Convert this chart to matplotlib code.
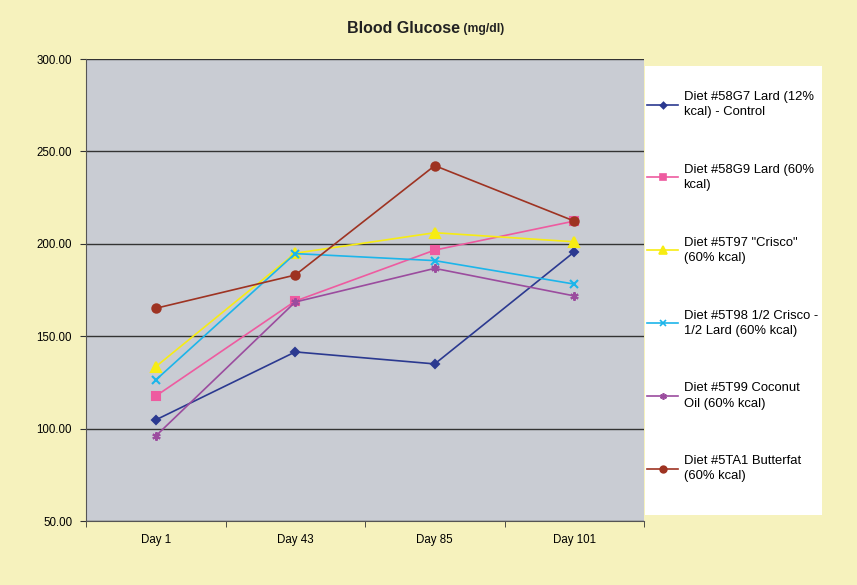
import matplotlib.pyplot as plt
from matplotlib.lines import Line2D
from matplotlib.patches import Rectangle

plt.rcParams['font.family'] = ['Liberation Sans', 'DejaVu Sans']

days = ["Day 1", "Day 43", "Day 85", "Day 101"]

lard_12 = [104.7, 141.5, 135.0, 195.6]
lard_60 = [117.6, 169.0, 196.6, 212.3]
crisco = [133.5, 194.9, 206.0, 201.1]
crisco_lard = [126.3, 194.7, 190.9, 178.2]
coconut = [96.0, 168.5, 186.7, 171.8]
butterfat = [165.1, 183.1, 242.3, 212.3]

labels = [
    'Diet #58G7 Lard (12%\nkcal) - Control',
    'Diet #58G9 Lard (60%\nkcal)',
    'Diet #5T97 "Crisco"\n(60% kcal)',
    'Diet #5T98 1/2 Crisco -\n1/2 Lard (60% kcal)',
    'Diet #5T99 Coconut\nOil (60% kcal)',
    'Diet #5TA1 Butterfat\n(60% kcal)',
]
series = [lard_12, lard_60, crisco, crisco_lard, coconut, butterfat]
colors = ['#2B3990', '#EE5BA0', '#F7EC13', '#1CB5EA', '#9B4C9E', '#9E3322']
markers = ['D', 's', '^', 'x', (6, 2, 0), 'o']
msizes = [4, 6, 7, 6, 6, 6]

fig = plt.figure(figsize=(8.57, 5.85), dpi=100, facecolor='#F6F2BD')
ax = fig.add_axes([86 / 857, 64 / 585, 558 / 857, 462 / 585])
ax.set_facecolor('#C9CCD3')

x = list(range(len(days)))
handles = []
for vals, lab, c, m, ms in zip(series, labels, colors, markers, msizes):
    ax.plot(x, vals, color=c, lw=1.2, marker=m, ms=ms, mew=1.5, mec=c, mfc=c)
    handles.append(Line2D([], [], color=c, lw=1.2, marker=m, ms=ms * 0.8, mew=1.2, mec=c, mfc=c))

ax.set_xlim(-0.5, 3.5)
ax.set_ylim(50, 300)
yt = [50, 100, 150, 200, 250, 300]
ax.set_yticks(yt)
ax.set_yticklabels([f"{v:.2f}" for v in yt], fontsize=8.3)
ax.set_xticks(x)
ax.set_xticklabels(days, fontsize=8.3)
ax.set_xticks([-0.5, 0.5, 1.5, 2.5, 3.5], minor=True)
ax.tick_params(axis='x', which='major', length=0, pad=9)
ax.tick_params(axis='x', which='minor', length=4, color='#333333')
ax.tick_params(axis='y', length=4, color='#333333', pad=6)
ax.yaxis.grid(True, color='#333333', lw=1)
ax.set_axisbelow(True)
for s in ['top', 'right']:
    ax.spines[s].set_visible(False)
ax.spines['left'].set_color('#555555')
ax.spines['bottom'].set_color('#555555')

fig.text(460 / 857, 0.952, 'Blood Glucose', fontsize=11.5, fontweight='bold', ha='right',
         va='center', color='#222222')
fig.text(460 / 857, 0.95, ' (mg/dl)', fontsize=8.8, fontweight='bold', ha='left',
         va='center', color='#222222')

# white legend panel
fig.patches.append(Rectangle((645 / 857, 1 - 515 / 585), 177 / 857, 449 / 585,
                             transform=fig.transFigure, facecolor='white',
                             edgecolor='none', zorder=0))
leg = fig.legend(handles, labels, loc='upper left', bbox_to_anchor=(647 / 857, 1 - 91 / 585),
                 fontsize=9.4, frameon=False, handlelength=2.4,
                 labelspacing=3.5, borderpad=0, handletextpad=0.4, borderaxespad=0)
for t in leg.get_texts():
    t.set_linespacing(1.35)

fig.savefig('out.png', dpi=100, facecolor=fig.get_facecolor())
